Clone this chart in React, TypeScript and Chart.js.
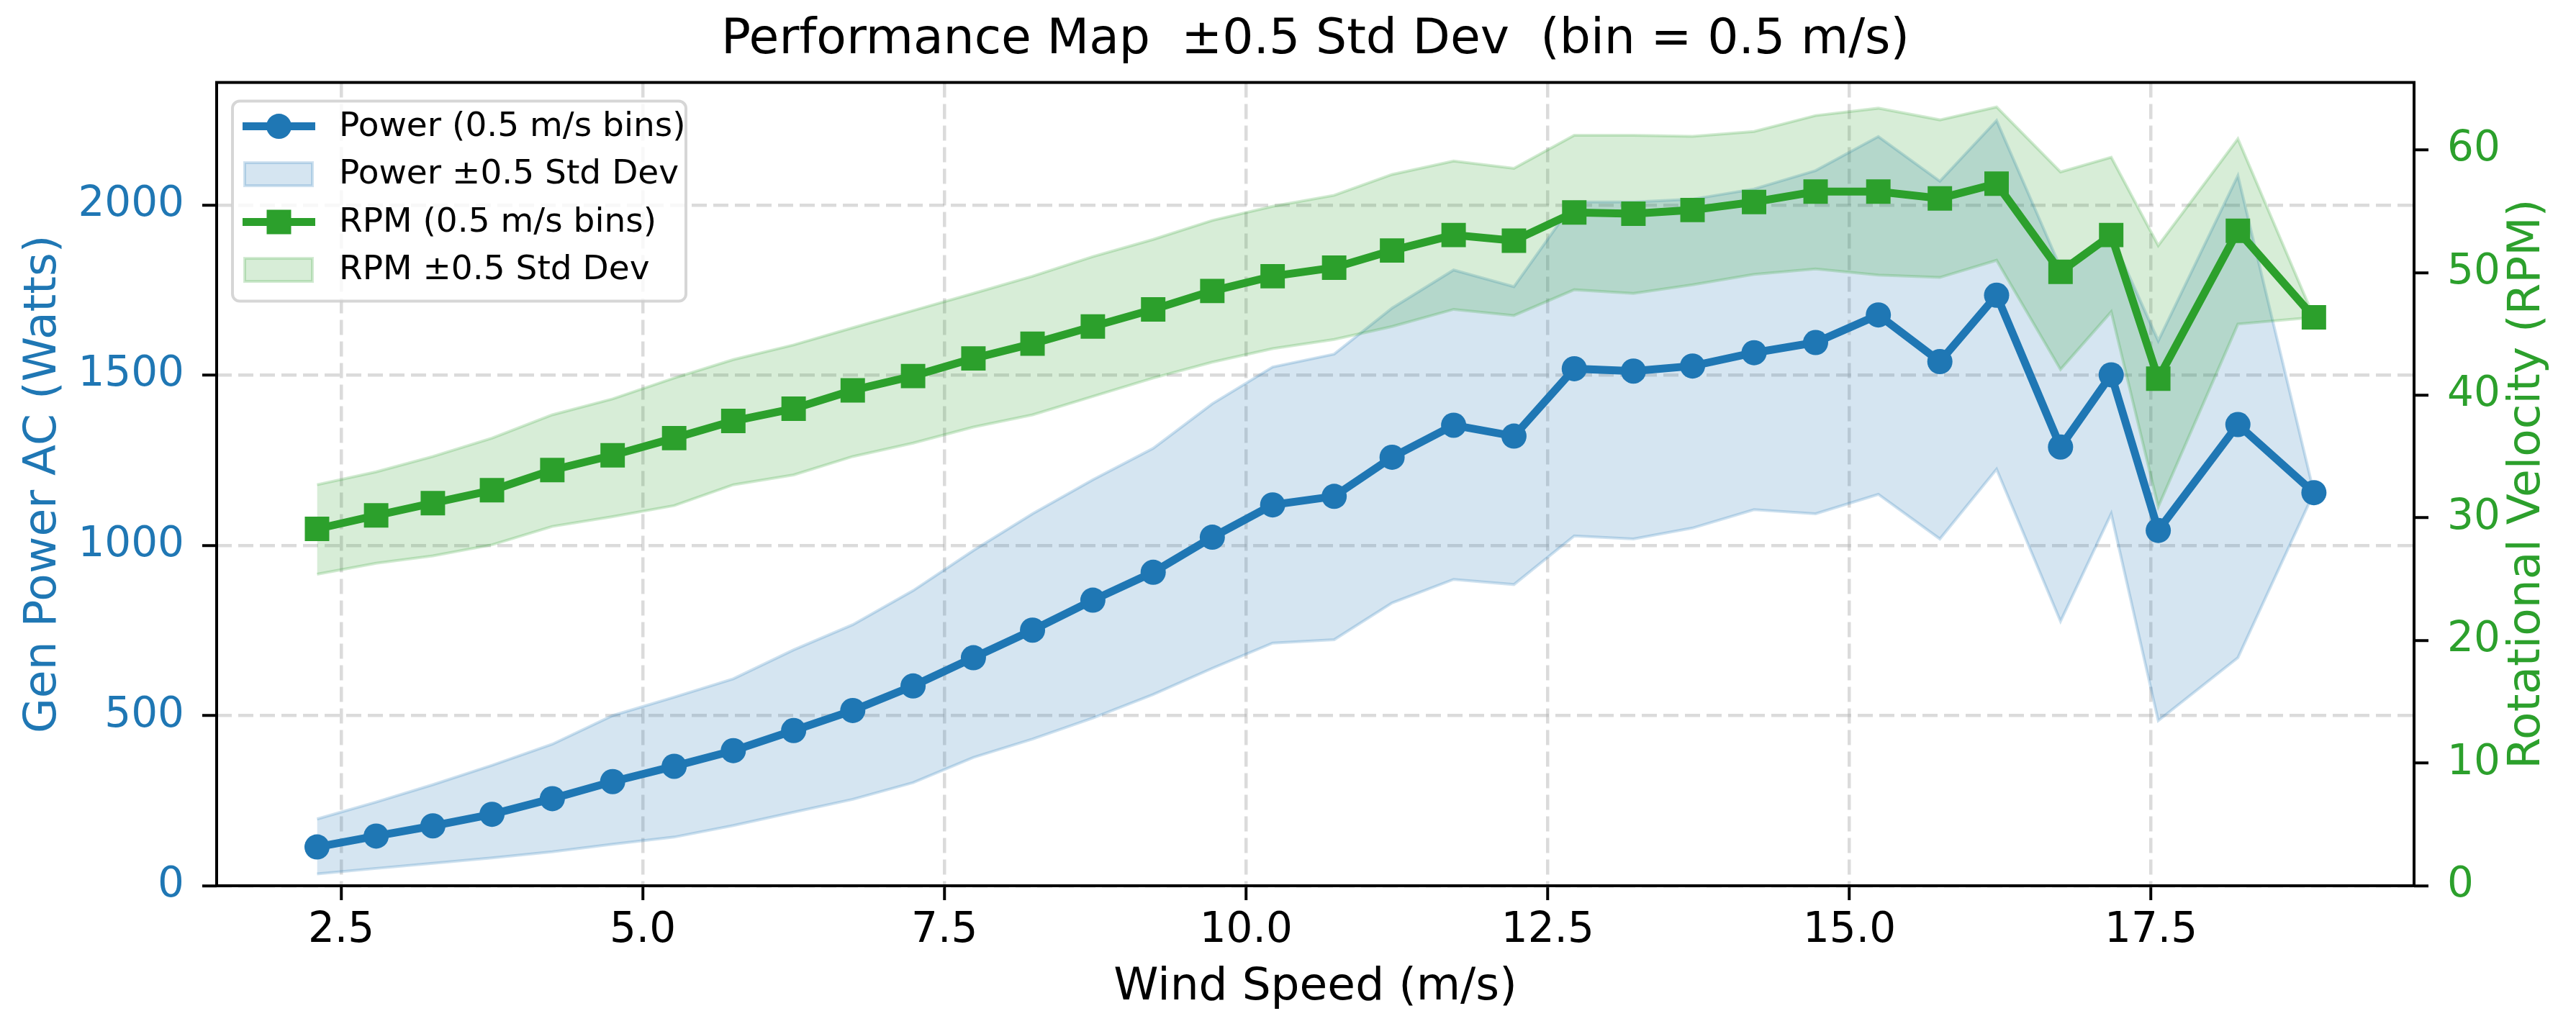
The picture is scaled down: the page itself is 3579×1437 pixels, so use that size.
import { useEffect, useRef } from 'react';
import { Chart, registerables } from 'chart.js';
Chart.register(...registerables);

// bin centres (m/s)
const windSpeed = [
  2.3, 2.79, 3.26, 3.75, 4.25, 4.75, 5.26, 5.75, 6.25, 6.74, 7.24, 7.74,
  8.23, 8.73, 9.23, 9.72, 10.22, 10.73, 11.21, 11.72, 12.22, 12.72, 13.21, 13.7,
  14.21, 14.72, 15.24, 15.75, 16.22, 16.75, 17.17, 17.56, 18.22, 18.85,
];

// generator power (W): mean and mean ± 0.5 std
const powerMean = [
  114, 146, 176, 210, 256, 306, 351, 397, 456, 515, 587, 670,
  751, 839, 921, 1024, 1119, 1144, 1259, 1353, 1321, 1519, 1512, 1527,
  1566, 1596, 1677, 1540, 1735, 1289, 1501, 1044, 1355, 1155,
];
const powerHigh = [
  196, 246, 297, 354, 416, 500, 554, 608, 693, 767, 867, 985,
  1093, 1193, 1285, 1416, 1524, 1562, 1697, 1809, 1760, 2009, 2009, 2017,
  2047, 2101, 2201, 2070, 2248, 1816, 1909, 1601, 2086, 1155,
];
const powerLow = [
  35, 51, 66, 82, 100, 122, 143, 177, 216, 254, 303, 377,
  431, 493, 562, 639, 713, 723, 831, 900, 885, 1028, 1019, 1051,
  1105, 1093, 1150, 1019, 1224, 777, 1093, 485, 670, 1155,
];

// rotor speed (RPM): mean and mean ± 0.5 std
const rpmMean = [
  29.1, 30.2, 31.2, 32.25, 33.9, 35.1, 36.5, 37.9, 38.9, 40.4, 41.56, 43.0,
  44.2, 45.6, 47.0, 48.5, 49.7, 50.4, 51.8, 53.06, 52.6, 54.9, 54.8, 55.1,
  55.75, 56.6, 56.6, 56.05, 57.25, 50.06, 53.06, 41.35, 53.4, 46.35,
];
const rpmHigh = [
  32.7, 33.75, 35.0, 36.5, 38.4, 39.7, 41.4, 42.9, 44.1, 45.5, 46.9, 48.3,
  49.7, 51.3, 52.7, 54.25, 55.4, 56.3, 58.0, 59.1, 58.5, 61.2, 61.2, 61.1,
  61.5, 62.8, 63.4, 62.45, 63.5, 58.2, 59.4, 52.2, 60.9, 46.35,
];
const rpmLow = [
  25.4, 26.3, 26.9, 27.8, 29.3, 30.1, 31.0, 32.7, 33.5, 35.0, 36.1, 37.4,
  38.4, 39.9, 41.4, 42.7, 43.8, 44.55, 45.6, 47.0, 46.5, 48.6, 48.3, 49.0,
  49.85, 50.3, 49.8, 49.6, 51.0, 42.1, 46.8, 30.9, 45.8, 46.35,
];

const windTicks = [2.5, 5, 7.5, 10, 12.5, 15, 17.5];
const powerTicks = [0, 500, 1000, 1500, 2000];
const rpmTicks = [0, 10, 20, 30, 40, 50, 60];

const BLUE = '#1f77b4';
const GREEN = '#2ca02c';
const GRID = 'rgba(176,176,176,0.45)';
const FONT = "'DejaVu Sans', sans-serif";

const W = 3579;
const H = 1437;

const pts = (ys: number[]) => ys.map((y, i) => ({ x: windSpeed[i], y }));

// matplotlib-like frame, right-hand ylabel (reads bottom-up) and legend box
const frameAndLegend = {
  id: 'frameAndLegend',
  afterDatasetsDraw(chart: any) {
    const { ctx, chartArea: a } = chart;
    ctx.save();
    ctx.lineWidth = 4;
    ctx.strokeStyle = '#000';
    ctx.strokeRect(a.left, a.top, a.right - a.left, a.bottom - a.top);

    // right axis title
    const t = chart.scales.y1.options.title;
    ctx.save();
    ctx.translate(3512, (a.top + a.bottom) / 2);
    ctx.rotate(-Math.PI / 2);
    ctx.fillStyle = t.color;
    ctx.font = `63px ${FONT}`;
    ctx.textAlign = 'center';
    ctx.textBaseline = 'middle';
    ctx.fillText(t.text, 0, 0);
    ctx.restore();

    const bx = a.left + 22;
    const by = a.top + 26;
    ctx.beginPath();
    ctx.roundRect(bx, by, 630, 278, 10);
    ctx.fillStyle = 'rgba(255,255,255,0.8)';
    ctx.fill();
    ctx.lineWidth = 4;
    ctx.strokeStyle = 'rgba(204,204,204,0.8)';
    ctx.stroke();

    const order = [3, 4, 0, 1];
    order.forEach((di, row) => {
      const ds = chart.data.datasets[di];
      const cy = by + 35 + row * 66.5;
      const x0 = bx + 14;
      const x1 = bx + 115;
      const cx = (x0 + x1) / 2;
      if (ds.fill) {
        ctx.fillStyle = ds.backgroundColor;
        ctx.fillRect(x0 + 3, cy - 16, 94, 32);
        ctx.lineWidth = 4;
        ctx.strokeStyle = ds.borderColor;
        ctx.strokeRect(x0 + 3, cy - 16, 94, 32);
      } else {
        ctx.lineWidth = ds.borderWidth;
        ctx.strokeStyle = ds.borderColor;
        ctx.beginPath();
        ctx.moveTo(x0, cy);
        ctx.lineTo(x1, cy);
        ctx.stroke();
        ctx.fillStyle = ds.borderColor;
        ctx.beginPath();
        if (ds.pointStyle === 'rect') {
          ctx.rect(cx - 17, cy - 17, 34, 34);
        } else {
          ctx.arc(cx, cy, 17.5, 0, Math.PI * 2);
        }
        ctx.fill();
      }
      ctx.fillStyle = '#000';
      ctx.font = `47px ${FONT}`;
      ctx.textBaseline = 'middle';
      ctx.textAlign = 'left';
      ctx.fillText(ds.label, bx + 148, cy + 1);
    });
    ctx.restore();
  },
};

const tickGrid = (onArea: boolean) => ({
  drawOnChartArea: onArea,
  color: GRID,
  lineWidth: 4.5,
  tickColor: '#000',
  tickWidth: 4,
  tickLength: 20,
  tickBorderDash: [],
});

// in Chart.js 4 the grid-line dash lives under border
const dashedBorder = { display: false, dash: [21, 9] };

export default function App() {
  const canvasRef = useRef<HTMLCanvasElement>(null);
  const chartRef = useRef<Chart | null>(null);

  useEffect(() => {
    document.body.style.margin = '0';
    if (!canvasRef.current) return;
    if (chartRef.current) chartRef.current.destroy();

    chartRef.current = new Chart(canvasRef.current, {
      type: 'line',
      data: {
        datasets: [
          {
            label: 'RPM (0.5 m/s bins)',
            data: pts(rpmMean),
            yAxisID: 'y1',
            borderColor: GREEN,
            backgroundColor: GREEN,
            borderWidth: 11,
            pointStyle: 'rect',
            pointRadius: 24,
            pointBorderWidth: 0,
            pointBackgroundColor: GREEN,
            tension: 0,
            fill: false,
          },
          {
            label: 'RPM ±0.5 Std Dev',
            data: pts(rpmHigh),
            yAxisID: 'y1',
            borderColor: 'rgba(44,160,44,0.22)',
            backgroundColor: 'rgba(44,160,44,0.19)',
            borderWidth: 4,
            pointRadius: 0,
            tension: 0,
            fill: '+1',
          },
          {
            label: 'rpm-low',
            data: pts(rpmLow),
            yAxisID: 'y1',
            borderColor: 'rgba(44,160,44,0.22)',
            borderWidth: 4,
            pointRadius: 0,
            tension: 0,
            fill: false,
          },
          {
            label: 'Power (0.5 m/s bins)',
            data: pts(powerMean),
            yAxisID: 'y',
            borderColor: BLUE,
            backgroundColor: BLUE,
            borderWidth: 11,
            pointStyle: 'circle',
            pointRadius: 17.5,
            pointBorderWidth: 0,
            pointBackgroundColor: BLUE,
            tension: 0,
            fill: false,
          },
          {
            label: 'Power ±0.5 Std Dev',
            data: pts(powerHigh),
            yAxisID: 'y',
            borderColor: 'rgba(31,119,180,0.22)',
            backgroundColor: 'rgba(31,119,180,0.19)',
            borderWidth: 4,
            pointRadius: 0,
            tension: 0,
            fill: '+1',
          },
          {
            label: 'power-low',
            data: pts(powerLow),
            yAxisID: 'y',
            borderColor: 'rgba(31,119,180,0.22)',
            borderWidth: 4,
            pointRadius: 0,
            tension: 0,
            fill: false,
          },
        ],
      },
      options: {
        animation: false,
        responsive: true,
        maintainAspectRatio: false,
        devicePixelRatio: 1,
        layout: { padding: 0 },
        plugins: {
          legend: { display: false },
          tooltip: { enabled: false },
          title: {
            display: true,
            fullSize: false,
            text: 'Performance Map  ±0.5 Std Dev  (bin = 0.5 m/s)',
            color: '#000',
            font: { family: FONT, size: 68, weight: 'normal' },
            padding: { top: 16, bottom: 17 },
          },
        },
        scales: {
          x: {
            type: 'linear',
            min: 1.468,
            max: 19.68,
            afterBuildTicks: (s: any) => { s.ticks = windTicks.map(v => ({ value: v })); },
            afterFit: (s: any) => { s.height = 206; },
            ticks: {
              color: '#000',
              font: { family: FONT, size: 58 },
              padding: 8,
              maxRotation: 0,
              autoSkip: false,
              callback: (v: number | string) => Number(v).toFixed(1),
            },
            grid: tickGrid(true),
            border: dashedBorder,
            title: {
              display: true,
              text: 'Wind Speed (m/s)',
              color: '#000',
              font: { family: FONT, size: 63 },
              padding: { top: 0, bottom: 27 },
            },
          },
          y: {
            type: 'linear',
            position: 'left',
            min: 0,
            max: 2360,
            afterBuildTicks: (s: any) => { s.ticks = powerTicks.map(v => ({ value: v })); },
            afterFit: (s: any) => { s.width = 301; },
            ticks: {
              color: BLUE,
              font: { family: FONT, size: 58 },
              padding: 25,
              callback: (v: number | string) => String(v),
            },
            grid: tickGrid(true),
            border: dashedBorder,
            title: {
              display: true,
              text: 'Gen Power AC (Watts)',
              color: BLUE,
              font: { family: FONT, size: 63 },
              padding: { top: 23, bottom: 0 },
            },
          },
          y1: {
            type: 'linear',
            position: 'right',
            min: 0,
            max: 65.5,
            afterBuildTicks: (s: any) => { s.ticks = rpmTicks.map(v => ({ value: v })); },
            afterFit: (s: any) => { s.width = W - 3354; },
            ticks: {
              color: GREEN,
              font: { family: FONT, size: 58 },
              padding: 26,
              callback: (v: number | string) => String(v),
            },
            grid: tickGrid(false),
            border: { display: false },
            title: {
              display: false,
              text: 'Rotational Velocity (RPM)',
              color: GREEN,
            },
          },
        },
      },
      plugins: [frameAndLegend],
    });

    return () => { chartRef.current?.destroy(); };
  }, []);

  return (
    <div style={{ width: W, height: H, position: 'relative' }}>
      <canvas ref={canvasRef} role="img" aria-label="Performance map of power and RPM versus wind speed" />
    </div>
  );
}
